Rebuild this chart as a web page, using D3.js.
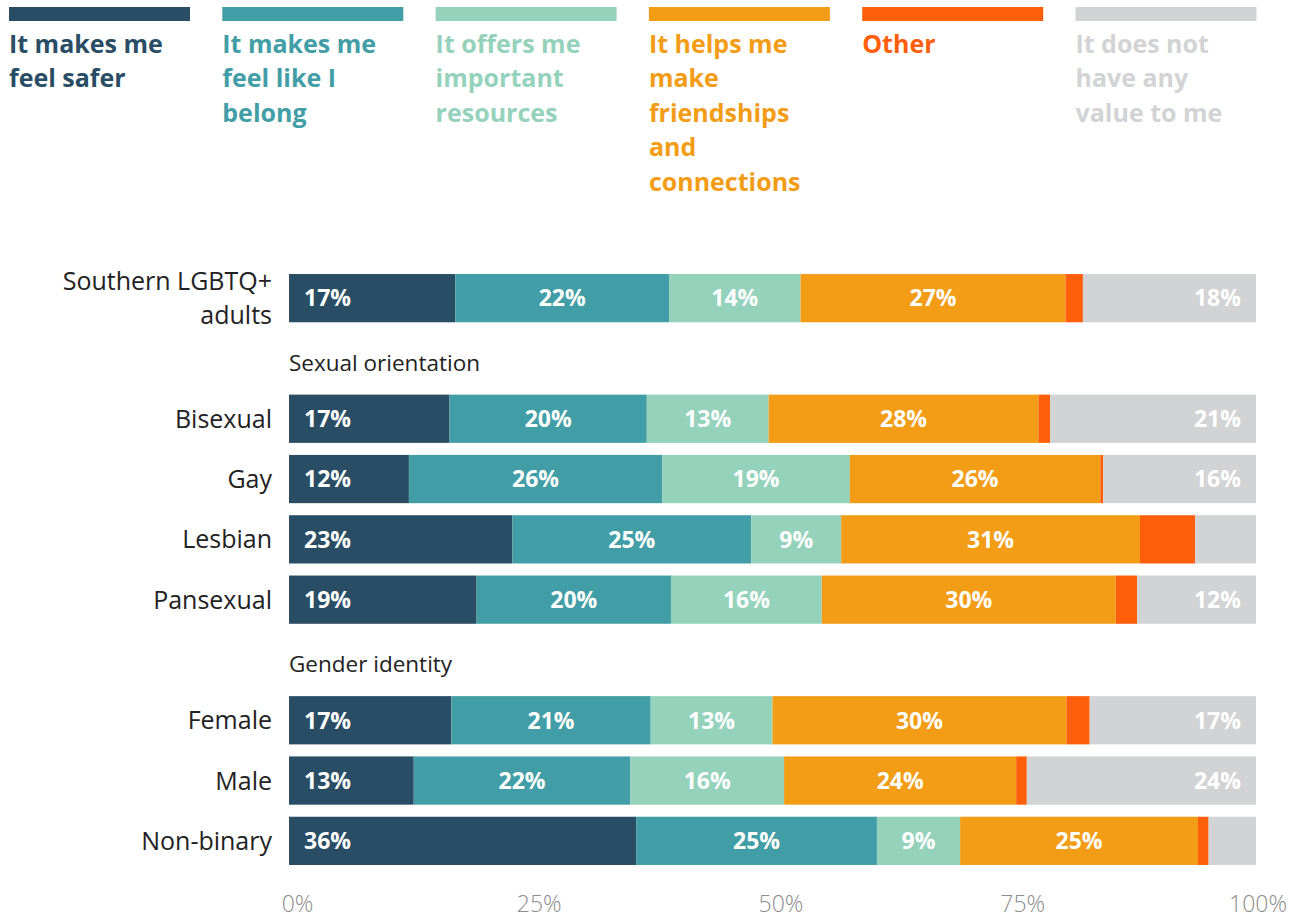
<!DOCTYPE html>
<html>
<head>
<meta charset="utf-8">
<script src="https://cdn.jsdelivr.net/npm/d3@7"></script>
<style>
  html, body { margin: 0; padding: 0; background: #fff; }
  svg { display: block; font-family: "Open Sans", "Lato", sans-serif; }
</style>
</head>
<body>
<svg id="chart" width="1299" height="920"></svg>
<script>
// Answer categories (stack order, left to right)
const answers = [
  "It makes me feel safer",
  "It makes me feel like I belong",
  "It offers me important resources",
  "It helps me make friendships and connections",
  "Other",
  "It does not have any value to me"
];
// Legend text, pre-wrapped
const legendLines = [
  ["It makes me", "feel safer"],
  ["It makes me", "feel like I", "belong"],
  ["It offers me", "important", "resources"],
  ["It helps me", "make", "friendships", "and", "connections"],
  ["Other"],
  ["It does not", "have any", "value to me"]
];
const colors = ["#294d65", "#429ea6", "#94d2bc", "#f39c16", "#ff5f0b", "#d2d3d5"];

// Rows, with the section each belongs to (null = overall)
const rowLabels = ["Southern LGBTQ+ adults", "Bisexual", "Gay", "Lesbian", "Pansexual", "Female", "Male", "Non-binary"];
const rowGroup  = [null, "Sexual orientation", "Sexual orientation", "Sexual orientation", "Sexual orientation", "Gender identity", "Gender identity", "Gender identity"];

// Share of respondents (%) for each answer, per row
const safer       = [17.2, 16.6, 12.4, 23.1, 19.4, 16.8, 12.9, 35.9];
const belong      = [22.1, 20.4, 26.2, 24.7, 20.1, 20.6, 22.4, 24.9];
const resources   = [13.6, 12.6, 19.4,  9.3, 15.6, 12.6, 15.9,  8.6];
const friendships = [27.4, 27.9, 25.9, 30.9, 30.4, 30.4, 24.0, 24.6];
const other       = [ 1.8,  1.2,  0.3,  5.7,  2.2,  2.4,  1.1,  1.1];
const noValue     = [17.9, 21.3, 15.8,  6.3, 12.3, 17.2, 23.7,  4.9];
const seriesValues = [safer, belong, resources, friendships, other, noValue];

const xTicks = [0, 25, 50, 75, 100];

// ---- layout ----
const svg = d3.select("#chart");
const left = 289, right = 1256;

// Vertical slots: overall row, then each section header followed by its rows
const slots = [];
rowLabels.forEach((label, i) => {
  const g = rowGroup[i];
  if (g && !slots.some(s => s.type === "header" && s.label === g)) {
    slots.push({ type: "header", label: g, key: "h-" + g });
  }
  slots.push({ type: "row", label, index: i, key: "r-" + label });
});

const x = d3.scaleLinear().domain([0, 100]).range([left, right]);
const y = d3.scaleBand()
  .domain(slots.map(s => s.key))
  .range([268, 871])
  .paddingInner(0.2)
  .paddingOuter(0.1);

const color = d3.scaleOrdinal().domain(answers).range(colors);

// Stack data
const table = rowLabels.map((label, i) => {
  const o = { label };
  answers.forEach((a, k) => { o[a] = seriesValues[k][i]; });
  return o;
});
const stacked = d3.stack().keys(answers)(table);

// ---- legend ----
const legend = svg.append("g");
const legendStep = 213.3, swatchW = 181;
answers.forEach((a, i) => {
  const g = legend.append("g").attr("transform", `translate(${9 + i * legendStep},0)`);
  g.append("rect").attr("x", 0).attr("y", 7).attr("width", swatchW).attr("height", 14)
    .attr("fill", color(a));
  g.append("text")
    .attr("fill", color(a))
    .attr("font-size", 25)
    .attr("font-weight", 700)
    .selectAll("tspan")
    .data(legendLines[i])
    .join("tspan")
    .attr("x", 0)
    .attr("y", (d, j) => 53 + j * 34.4)
    .text(d => d);
});

// ---- bars ----
const rowKey = i => "r-" + rowLabels[i];
const bars = svg.append("g");
stacked.forEach(series => {
  bars.append("g").attr("fill", color(series.key))
    .selectAll("rect")
    .data(series)
    .join("rect")
    .attr("x", d => x(d[0]))
    .attr("y", (d, i) => y(rowKey(i)))
    .attr("width", d => x(d[1]) - x(d[0]))
    .attr("height", y.bandwidth());
});

// value labels inside segments wide enough to hold them
const fmt = v => d3.format(".0f")(v) + "%";
const labels = svg.append("g")
  .attr("fill", "#fff")
  .attr("font-size", 23)
  .attr("font-weight", 700);
stacked.forEach((series, k) => {
  const last = k === stacked.length - 1;
  const first = k === 0;
  labels.selectAll(null)
    .data(series.map((d, i) => ({ d, i })).filter(({ d }) => (d[1] - d[0]) >= 8))
    .join("text")
    .attr("x", ({ d }) => first ? x(d[0]) + 15 : last ? x(d[1]) - 15 : (x(d[0]) + x(d[1])) / 2)
    .attr("y", ({ i }) => y(rowKey(i)) + y.bandwidth() / 2)
    .attr("dy", "0.36em")
    .attr("text-anchor", first ? "start" : last ? "end" : "middle")
    .text(({ d }) => fmt(d[1] - d[0]));
});

// row labels
const rowText = svg.append("g")
  .attr("font-size", 25)
  .attr("fill", "#222")
  .attr("text-anchor", "end");
slots.filter(s => s.type === "row").forEach(s => {
  const words = s.label === "Southern LGBTQ+ adults" ? ["Southern LGBTQ+", "adults"] : [s.label];
  const cy = y(s.key) + y.bandwidth() / 2;
  const t = rowText.append("text");
  words.forEach((w, j) => {
    t.append("tspan")
      .attr("x", 272)
      .attr("y", cy + (j - (words.length - 1) / 2) * 34.5)
      .attr("dy", "0.36em")
      .text(w);
  });
});

// section headers
svg.append("g")
  .attr("font-size", 22.5)
  .attr("fill", "#222")
  .selectAll("text")
  .data(slots.filter(s => s.type === "header"))
  .join("text")
  .attr("x", left)
  .attr("y", d => y(d.key) + y.bandwidth() / 2 + 4)
  .attr("dy", "0.36em")
  .text(d => d.label);

// x axis
const axis = svg.append("g")
  .attr("transform", `translate(0,${896})`)
  .call(d3.axisBottom(x).tickValues(xTicks).tickFormat(d => d + "%").tickSize(0).tickPadding(0));
axis.select(".domain").remove();
axis.selectAll("text")
  .attr("font-family", "'Open Sans', sans-serif")
  .attr("font-weight", 300)
  .attr("font-size", 23)
  .attr("fill", "#8c8c8c")
  .attr("dx", 8)
  .attr("dy", "0.71em");
// keep the last tick label inside the page margin
axis.selectAll("text").each(function () {
  const b = this.getBBox();
  const tx = +d3.select(this.parentNode).attr("transform").match(/translate\(([-\d.]+)/)[1];
  const overflow = tx + b.x + b.width - 1287;
  if (overflow > 0) d3.select(this).attr("dx", 8 - overflow);
});
</script>
</body>
</html>
